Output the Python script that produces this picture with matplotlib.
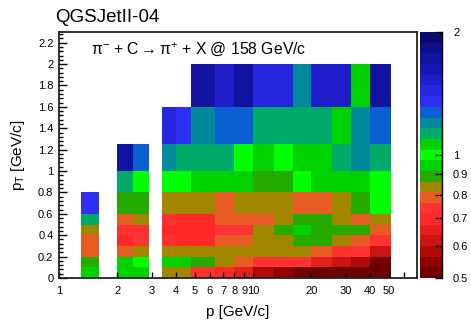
import numpy as np
import matplotlib
matplotlib.use("Agg")
import matplotlib.pyplot as plt
from matplotlib.colors import ListedColormap, LogNorm
from matplotlib.ticker import FixedLocator, NullFormatter, MultipleLocator

plt.rcParams['font.family'] = ['Liberation Sans', 'DejaVu Sans']
plt.rcParams['mathtext.fontset'] = 'custom'
plt.rcParams['mathtext.rm'] = 'Liberation Sans'
plt.rcParams['mathtext.it'] = 'Liberation Sans:italic'

# bin edges (p in GeV/c, pT in GeV/c)
p_edges = [1.3, 1.6, 2.0, 2.4, 2.9, 3.4, 4.0, 4.8, 6.4, 8.0, 10.0,
           12.8, 16.0, 20.0, 25.6, 32.0, 40.0, 51.2]
pt_edges = [0.0, 0.1, 0.2, 0.3, 0.4, 0.5, 0.6, 0.8, 1.0, 1.25, 1.6, 2.0]

n = np.nan
# ratio per pT row (bottom to top), one value per p bin (nan = empty)
ratio_pt00 = [0.94, n, 0.94, 0.94, n, 0.83, 0.83, 0.74, 0.70, 0.66, 0.58, 0.55, 0.52, 0.52, 0.52, 0.52, 0.52]
ratio_pt01 = [0.89, n, 0.94, 1.00, n, 0.94, 0.94, 0.89, 0.83, 0.79, 0.74, 0.74, 0.74, 0.66, 0.62, 0.58, 0.52]
ratio_pt02 = [0.79, n, 0.79, 0.83, n, 0.83, 0.83, 0.83, 0.83, 0.83, 0.83, 0.83, 0.83, 0.79, 0.74, 0.74, 0.62]
ratio_pt03 = [0.79, n, 0.70, 0.74, n, 0.74, 0.70, 0.70, 0.79, 0.79, 0.83, 0.83, 0.89, 0.89, 0.83, 0.79, 0.74]
ratio_pt04 = [0.83, n, 0.74, 0.74, n, 0.70, 0.70, 0.70, 0.74, 0.74, 0.83, 0.89, 0.94, 0.89, 0.89, 0.89, 0.79]
ratio_pt05 = [1.13, n, 0.79, 0.83, n, 0.74, 0.70, 0.70, 0.79, 0.79, 0.79, 0.83, 0.89, 0.89, 0.83, 0.79, 0.83]
ratio_pt06 = [1.35, n, 0.89, 0.89, n, 0.83, 0.83, 0.83, 0.79, 0.83, 0.83, 0.83, 0.79, 0.79, 0.83, 0.89, 1.00]
ratio_pt08 = [n, n, 1.13, 1.00, n, 1.00, 1.00, 0.94, 0.94, 0.94, 0.89, 0.89, 1.00, 0.94, 0.94, 0.94, 1.00]
ratio_pt10 = [n, n, 1.72, 1.27, n, 1.20, 1.13, 1.13, 1.13, 1.00, 0.94, 1.00, 0.94, 0.94, 1.13, 1.20, 1.13]
ratio_pt12 = [n, n, n, n, n, 1.44, 1.35, 1.20, 1.27, 1.27, 1.13, 1.13, 1.13, 1.13, 0.94, 1.20, 1.27]
ratio_pt16 = [n, n, n, n, n, n, n, 1.72, 1.53, 1.72, 1.44, 1.44, 1.20, 1.53, 1.53, 0.94, 1.72]

ratio = np.array([ratio_pt00, ratio_pt01, ratio_pt02, ratio_pt03, ratio_pt04,
                  ratio_pt05, ratio_pt06, ratio_pt08, ratio_pt10, ratio_pt12,
                  ratio_pt16])

# palette, low to high
palette = ['#700000', '#920000', '#b20a0a', '#cc1414', '#e61e1e', '#ff2828',
           '#ff3232', '#e65c23', '#a38600', '#24aa00', '#00d200', '#00ff00',
           '#00d200', '#00aa69', '#008a9b', '#0a5fd2', '#2e2ef5', '#2626e0',
           '#1e1ec8', '#1717b4', '#1212a0', '#0e0e88', '#0a0a70']
cmap = ListedColormap(palette)
norm = LogNorm(vmin=0.5, vmax=2.0)

fig = plt.figure(figsize=(4.71, 3.25), dpi=100)
ax = fig.add_axes([59/471, 47/325, 358/471, 246/325])
cax = fig.add_axes([420/471, 47/325, 22/471, 246/325])

mesh = ax.pcolormesh(p_edges, pt_edges, np.ma.masked_invalid(ratio),
                     cmap=cmap, norm=norm, shading='flat')

ax.set_xscale('log')
ax.set_xlim(1, 70)
ax.set_ylim(0, 2.3)

major_x = [1, 2, 3, 4, 5, 6, 7, 8, 9, 10, 20, 30, 40, 50, 60]
labels_x = ['1', '2', '3', '4', '5', '6', '7', '8', '9', '10', '20', '30', '40', '50', '']
ax.xaxis.set_major_locator(FixedLocator(major_x))
ax.set_xticklabels(labels_x)
ax.xaxis.set_minor_formatter(NullFormatter())
ax.xaxis.set_minor_locator(FixedLocator([]))
ax.yaxis.set_major_locator(MultipleLocator(0.2))
ax.yaxis.set_minor_locator(MultipleLocator(0.04))
ax.yaxis.set_major_formatter(plt.FuncFormatter(lambda v, _: f'{v:g}'))

ax.tick_params(axis='x', which='major', direction='in', length=4.5, width=1,
               labelsize=8, pad=6, top=False)
ax.tick_params(axis='y', which='major', direction='in', length=6, width=1,
               labelsize=8, pad=4, right=False)
ax.tick_params(axis='y', which='minor', direction='in', length=3, width=1, right=False)
for s in ax.spines.values():
    s.set_linewidth(1.3)
    s.set_color('#222222')

ax.set_xlabel('p [GeV/c]', fontsize=11, labelpad=6)
ax.set_ylabel(r'p$_{\mathrm{T}}$ [GeV/c]', fontsize=11, labelpad=8)

ax.text(0.09, 0.93, r'$\mathrm{\pi^{-}}$ + C$\rightarrow$$\mathrm{\pi^{+}}$ + X @ 158 GeV/c',
        transform=ax.transAxes, fontsize=11.3, va='center', ha='left')
fig.text(55/471, 1 - 22.5/325, 'QGSJetII-04', fontsize=13.5, ha='left', va='baseline')

cb = fig.colorbar(mesh, cax=cax)
cb.outline.set_visible(False)
cb.set_ticks([0.5, 0.6, 0.7, 0.8, 0.9, 1, 2])
cb.set_ticklabels(['0.5', '0.6', '0.7', '0.8', '0.9', '1', '2'])
cb.minorticks_off()
cax.tick_params(direction='in', length=5, width=1, labelsize=8, pad=8)
cax.plot([1, 1], [0, 1], transform=cax.transAxes, color='k', lw=1, clip_on=False)

fig.savefig('out.png', dpi=100)
